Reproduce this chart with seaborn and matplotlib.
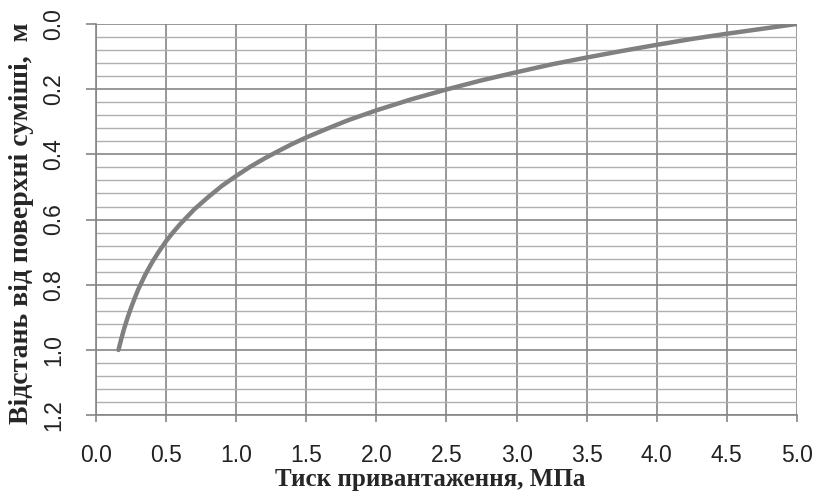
import numpy as np
import pandas as pd
import seaborn as sns
import matplotlib.pyplot as plt
from matplotlib.ticker import MultipleLocator

# pressure (MPa) vs depth from mixture surface (m)
pressure = [0.16, 0.18, 0.2, 0.225, 0.25, 0.275, 0.3, 0.35, 0.4, 0.45, 0.5, 0.55, 0.6,
            0.7, 0.8, 0.9, 1.0, 1.1, 1.2, 1.3, 1.4, 1.5, 1.65, 1.8, 2.0, 2.25,
            2.5, 2.75, 3.0, 3.25, 3.5, 3.75, 4.0, 4.25, 4.5, 4.75, 5.0]
depth = [1.0, 0.966, 0.935, 0.901, 0.87, 0.842, 0.815, 0.77, 0.731, 0.697, 0.666, 0.639, 0.614,
         0.569, 0.531, 0.496, 0.466, 0.438, 0.413, 0.39, 0.368, 0.348, 0.321, 0.295, 0.265, 0.231,
         0.201, 0.173, 0.148, 0.124, 0.103, 0.083, 0.064, 0.046, 0.03, 0.015, 0.0]

x_label = "Тиск привантаження, МПа"
y_label = "Відстань від поверхні суміші,  м"

df = pd.DataFrame({"pressure": pressure, "depth": depth})

sns.set_style("white")
plt.rcParams["font.family"] = ["Liberation Sans", "DejaVu Sans"]

fig = plt.figure(figsize=(8.14, 4.99), dpi=100)
ax = fig.add_axes([0.118, 0.168, 0.861, 0.784])

major_c = "#868686"
minor_c = "#b0b0b0"

ax.set_xlim(0, 5.0)
ax.set_ylim(1.2, 0.0)
ax.xaxis.set_major_locator(MultipleLocator(0.5))
ax.yaxis.set_major_locator(MultipleLocator(0.2))
ax.yaxis.set_minor_locator(MultipleLocator(0.04))

ax.grid(True, which="major", axis="both", color=major_c, lw=1.2)
ax.grid(True, which="minor", axis="y", color=minor_c, lw=1.0)
ax.set_axisbelow(True)

sns.lineplot(data=df, x="pressure", y="depth", ax=ax, color="#808080", lw=3.2)

ax.xaxis.set_major_formatter(lambda v, p: f"{v:.1f}")
ax.yaxis.set_major_formatter(lambda v, p: f"{v:.1f}")
ax.tick_params(axis="x", which="major", length=5, width=1.2, color=major_c,
               direction="out", bottom=True, pad=16, labelsize=16.5, labelcolor="#222222")
ax.tick_params(axis="y", which="major", length=7, width=1.2, color=major_c,
               direction="out", left=True, pad=15, labelsize=16.5, labelcolor="#222222",
               labelrotation=90)
ax.tick_params(axis="y", which="minor", left=False)
for lab in ax.get_yticklabels():
    lab.set_va("center")

for side in ["top", "right"]:
    ax.spines[side].set_visible(False)
for side in ["left", "bottom"]:
    ax.spines[side].set_color(major_c)
    ax.spines[side].set_linewidth(1.2)

ax.set_xlabel(x_label, family="Liberation Serif", fontweight="bold", fontsize=18)
ax.set_ylabel(y_label, family="Liberation Serif", fontweight="bold", fontsize=20)
ax.xaxis.set_label_coords(0.477, -0.135)
ax.yaxis.set_label_coords(-0.088, 0.49)

plt.savefig("out.png", dpi=100)
